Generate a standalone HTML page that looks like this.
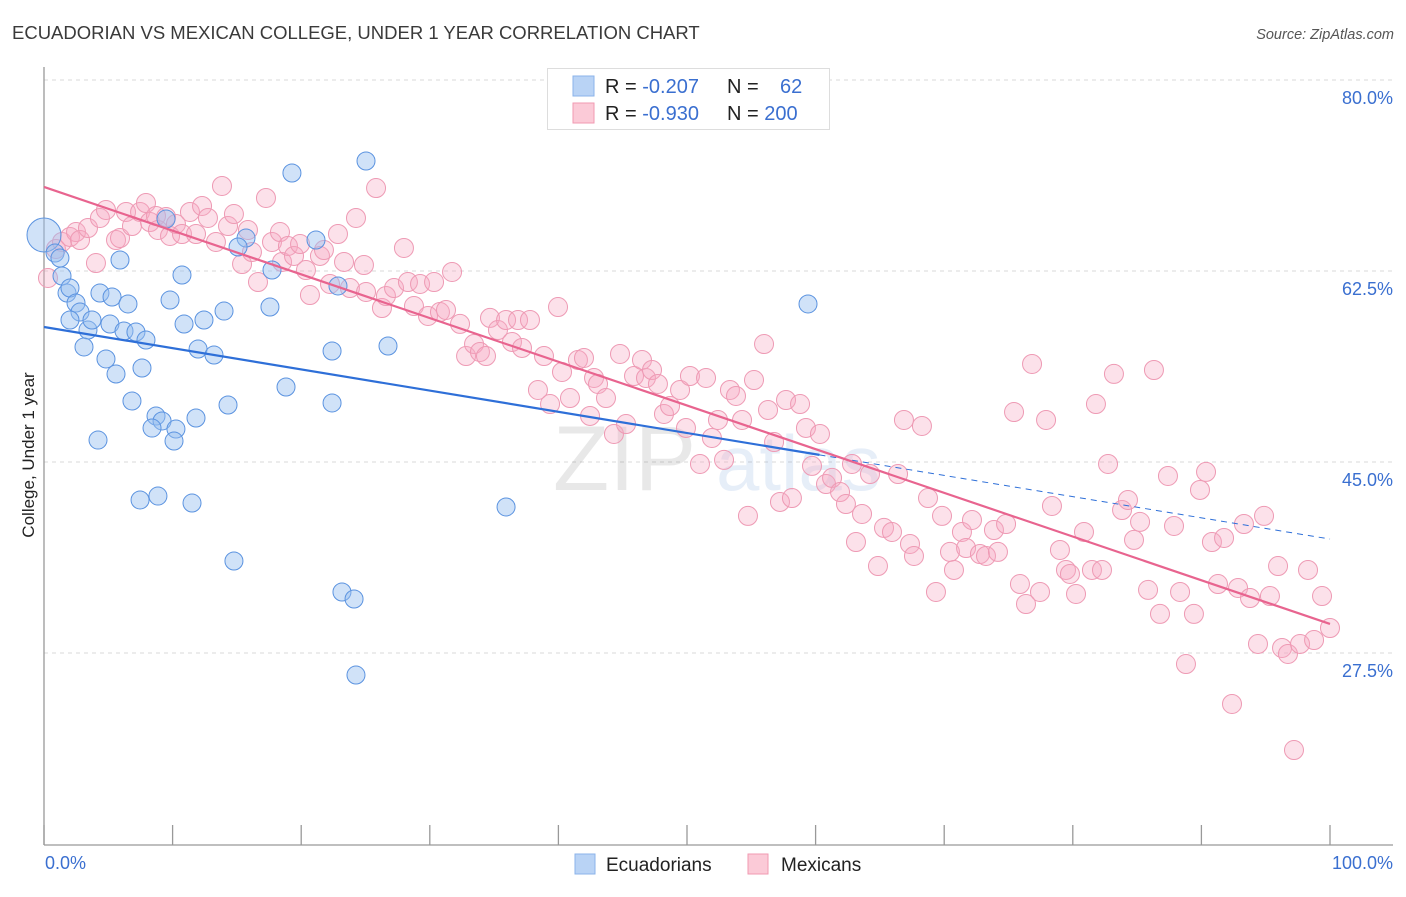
<!DOCTYPE html>
<html><head><meta charset="utf-8"><style>
body{margin:0;background:#fff;font-family:"Liberation Sans",sans-serif;}
svg text{font-family:"Liberation Sans",sans-serif;}
</style></head><body>
<svg id="chart" width="1406" height="892" viewBox="0 0 1406 892">
<text x="12" y="39" font-size="18.5" fill="#3a3a3a">ECUADORIAN VS MEXICAN COLLEGE, UNDER 1 YEAR CORRELATION CHART</text>
<text x="1394" y="39" font-size="14.5" fill="#555" font-style="italic" text-anchor="end">Source: ZipAtlas.com</text>
<g id="grid"></g>
<g opacity="0.13">
<text x="553" y="490" font-size="92" font-family="Liberation Serif" fill="#555">ZIP</text>
<text x="716" y="490" font-size="78" fill="#4a7fd0">atlas</text>
</g>
<g id="pts"></g>
<g id="lines"></g>
<text transform="translate(34,455) rotate(-90)" font-size="17" fill="#222" text-anchor="middle">College, Under 1 year</text>
<text x="45" y="869" font-size="18" fill="#3a6fd0">0.0%</text>
<text x="1393" y="869" font-size="18" fill="#3a6fd0" text-anchor="end">100.0%</text>
<g>
<rect x="547.5" y="68.5" width="282" height="61" fill="#fff" stroke="#ddd"/>
<rect x="573" y="76" width="21" height="20" fill="#b9d3f5" stroke="#8bb3ea"/>
<rect x="573" y="103" width="21" height="20" fill="#fbcad7" stroke="#f09ab2"/>
<text x="605" y="93" font-size="20" fill="#222">R = <tspan fill="#3a6fd0">-0.207</tspan></text>
<text x="727" y="93" font-size="20" fill="#222">N = <tspan fill="#3a6fd0" x="780">62</tspan></text>
<text x="605" y="120" font-size="20" fill="#222">R = <tspan fill="#3a6fd0">-0.930</tspan></text>
<text x="727" y="120" font-size="20" fill="#222">N = <tspan fill="#3a6fd0">200</tspan></text>
</g>
<g>
<rect x="575" y="854" width="20" height="20" fill="#b9d3f5" stroke="#8bb3ea"/>
<text x="606" y="871" font-size="19" fill="#222">Ecuadorians</text>
<rect x="748" y="854" width="20" height="20" fill="#fbcad7" stroke="#f09ab2"/>
<text x="781" y="871" font-size="19" fill="#222">Mexicans</text>
</g>
</svg>
<script>
const yTicks=[80,62.5,45,27.5];
const yTickLabels=["80.0%","62.5%","45.0%","27.5%"];
const xTicks=[0,10,20,30,40,50,60,70,80,90,100];
const ecuX=[0,0.86,1.4,1.79,2.02,2.49,2.8,3.42,3.73,3.11,4.35,5.29,6.53,5.13,6.22,7.15,7.93,4.82,5.6,7.62,4.2,6.84,8.71,9.18,8.4,10.26,10.11,11.82,7.47,8.86,11.51,10.73,9.8,10.89,12.44,14.0,11.98,13.22,14.31,14.77,9.49,15.71,15.09,19.28,21.15,17.73,17.57,22.86,22.4,18.82,22.4,25.04,26.75,35.93,23.17,24.11,24.26,59.41,5.91,1.24,2.02];
const ecuY=[65.8,64.15,62.04,60.48,60.94,59.57,58.74,57.09,58.01,55.54,60.48,60.12,59.48,57.64,57.0,56.91,56.18,54.44,53.06,53.61,47.01,50.59,49.21,48.76,48.11,48.02,46.92,49.03,41.52,41.88,41.24,62.13,59.84,57.64,58.01,58.83,55.35,54.8,50.22,35.93,67.26,65.52,64.7,71.48,65.34,62.59,59.2,61.13,55.17,51.87,50.41,72.58,55.63,40.88,33.09,32.45,25.48,59.48,63.51,63.69,58.01];
const mexX=[0.31,0.93,1.4,2.02,2.49,2.8,3.42,4.04,4.35,4.82,5.6,5.91,6.38,6.84,7.47,7.93,8.24,8.71,8.86,9.49,9.8,10.26,10.73,11.35,11.82,12.29,12.75,13.37,13.84,14.31,14.77,15.4,15.86,16.17,16.64,17.26,17.73,18.35,18.51,18.97,19.44,19.91,20.37,20.68,21.46,21.77,22.24,22.86,23.33,23.79,24.26,24.88,25.04,25.82,26.28,26.59,27.22,27.99,28.3,28.77,29.24,29.86,30.33,30.79,31.26,31.73,32.35,32.82,33.44,33.9,34.37,34.68,35.3,35.93,36.39,36.86,37.17,37.79,38.41,38.88,39.35,39.97,40.28,40.9,41.52,41.99,42.46,42.77,43.08,43.7,44.32,44.79,45.26,45.88,46.5,46.81,47.28,47.74,48.21,48.68,49.46,49.92,50.23,51.01,51.48,51.94,52.41,52.88,53.34,53.81,54.28,54.74,55.21,55.99,56.3,56.77,57.23,57.7,58.16,58.79,59.25,59.72,60.34,60.81,61.28,61.9,62.36,62.83,63.14,63.61,64.23,64.85,65.32,65.94,66.41,66.87,67.34,67.65,68.27,68.74,69.36,69.83,70.45,70.76,71.38,71.7,72.16,72.78,73.25,73.87,74.18,74.81,75.43,75.89,76.36,76.83,77.45,77.92,78.38,79.0,79.47,79.78,80.25,80.87,81.49,81.8,82.27,82.74,83.2,83.83,84.29,84.76,85.23,85.85,86.31,86.78,87.4,87.87,88.34,88.8,89.42,89.89,90.36,90.82,91.29,91.76,92.38,92.85,93.31,93.78,94.4,94.87,95.33,95.96,96.27,96.73,97.2,97.67,98.29,98.76,99.38,100];
const mexY=[61.86,64.52,65.16,65.62,66.07,65.34,66.44,63.23,67.36,68.09,65.34,65.52,67.91,66.62,67.91,68.73,66.99,67.54,66.26,67.45,65.71,66.81,65.89,67.91,65.89,68.46,67.36,65.16,70.29,66.62,67.72,63.14,66.26,64.24,61.49,69.19,65.16,66.07,63.33,64.79,63.88,64.97,62.59,60.3,63.88,64.42,61.31,65.89,63.33,60.94,67.36,63.05,60.58,70.1,59.11,60.21,60.94,64.61,61.49,59.29,61.31,58.38,61.49,58.74,58.93,62.41,57.65,54.71,55.81,55.08,54.71,58.2,57.09,58.01,56.0,58.01,55.45,58.01,51.6,54.71,50.31,59.2,53.25,50.86,54.35,54.53,49.22,52.7,52.15,50.86,47.57,54.9,48.48,52.88,54.35,52.7,53.43,52.15,49.4,50.13,51.6,48.12,52.88,44.82,52.7,47.2,48.85,45.19,51.6,51.05,48.85,40.06,52.51,55.81,49.77,46.83,41.34,50.68,41.7,50.31,48.12,44.64,47.57,42.98,43.54,42.25,41.15,44.82,37.67,40.24,43.9,35.47,38.96,38.59,43.9,48.85,37.49,36.39,48.3,41.7,33.09,40.06,36.76,35.11,38.59,37.12,39.69,36.57,36.39,38.77,36.76,39.32,49.58,33.82,31.99,53.98,33.09,48.85,40.97,36.94,35.11,34.74,32.91,38.59,35.11,50.31,35.11,44.82,53.07,40.6,41.52,37.86,39.51,33.28,53.43,31.08,43.72,39.14,33.09,26.49,31.08,42.44,44.09,37.67,33.82,38.04,22.83,33.46,39.32,32.54,28.33,40.06,32.72,35.47,27.96,27.41,18.61,28.33,35.11,28.69,32.72,29.79];
const ecuTrend=[57.37,37.94];   // y at x=0 and x=100
const ecuSolidEnd=60.3;
const mexTrend=[70.2,30.16];

const NS="http://www.w3.org/2000/svg";
const X0=44,X1=1330,YREF=80;
function sx(v){return X0+(X1-X0)*v/100;}
function sy(v){return YREF+(80-v)*(191/17.5);}
function mk(tag,attrs,parent){const e=document.createElementNS(NS,tag);for(const k in attrs)e.setAttribute(k,attrs[k]);parent.appendChild(e);return e;}

const grid=document.getElementById('grid');
yTicks.forEach((t,i)=>{
  const l=mk('line',{x1:44,x2:1393,y1:sy(t),y2:sy(t),stroke:'#d8d8d8','stroke-dasharray':'4 4'},grid);
  
  
  const tx=mk('text',{x:1393,y:sy(t)+24,'font-size':18,fill:'#3a6fd0','text-anchor':'end'},grid);
  tx.textContent=yTickLabels[i];
  
  
});
const ya=mk('line',{x1:44,x2:44,y1:67,y2:845,stroke:'#999','stroke-width':1.3},grid);


const xa=mk('line',{x1:44,x2:1393,y1:845,y2:845,stroke:'#999','stroke-width':1.3},grid);


xTicks.forEach(t=>{
  const l=mk('line',{x1:sx(t),x2:sx(t),y1:825,y2:845,stroke:'#999','stroke-width':1.3},grid);
  
  
});

const pts=document.getElementById('pts');
mexX.forEach((x,i)=>{
  const c=mk('circle',{cx:sx(x),cy:sy(mexY[i]),r:9.5,fill:'rgba(247,170,195,0.35)',stroke:'#ee9ab4','stroke-width':1},pts);
  
  
});
ecuX.forEach((x,i)=>{
  const c=mk('circle',{cx:sx(x),cy:sy(ecuY[i]),r:i===0?17:9,fill:'rgba(150,190,240,0.45)',stroke:'#5b93e0','stroke-width':1},pts);
  
  
});

const lines=document.getElementById('lines');
function ty(tr,x){return tr[0]+(tr[1]-tr[0])*x/100;}
const l1=mk('line',{x1:sx(0),y1:sy(ty(ecuTrend,0)),x2:sx(ecuSolidEnd),y2:sy(ty(ecuTrend,ecuSolidEnd)),stroke:'#2e6fd8','stroke-width':2.2},lines);


const l2=mk('line',{x1:sx(ecuSolidEnd),y1:sy(ty(ecuTrend,ecuSolidEnd)),x2:sx(100),y2:sy(ty(ecuTrend,100)),stroke:'#2e6fd8','stroke-width':1,'stroke-dasharray':'6 5'},lines);


const l3=mk('line',{x1:sx(0),y1:sy(ty(mexTrend,0)),x2:sx(100),y2:sy(ty(mexTrend,100)),stroke:'#e8648f','stroke-width':2.2},lines);


</script>
</body></html>
